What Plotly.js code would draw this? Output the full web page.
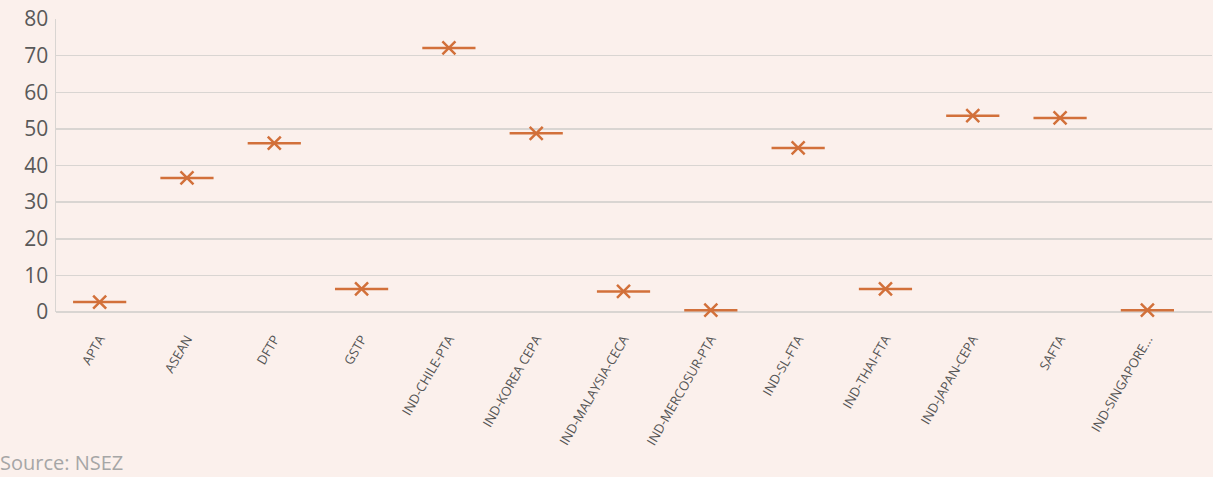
<!DOCTYPE html>
<html><head><meta charset="utf-8">
<script src="https://cdn.plot.ly/plotly-3.0.1.min.js"></script>
<style>html,body{margin:0;padding:0;background:#FBF0EC;}</style>
</head><body>
<div id="chart" style="width:1213px;height:477px;"></div>
<script>
const categories = ["APTA","ASEAN","DFTP","GSTP","IND-CHILE-PTA","IND-KOREA CEPA","IND-MALAYSIA-CECA","IND-MERCOSUR-PTA","IND-SL-FTA","IND-THAI-FTA","IND-JAPAN-CEPA","SAFTA","IND-SINGAPORE..."];
const values = [2.7, 36.6, 46.1, 6.3, 72.1, 48.8, 5.6, 0.5, 44.8, 6.3, 53.6, 53.0, 0.5];
const yTicks = [0,10,20,30,40,50,60,70,80];
const markerColor = "#D2703A";

const traces = [
  {x: categories, y: values, type: "scatter", mode: "markers", cliponaxis: false, hoverinfo: "x+y",
   marker: {symbol: "line-ew", size: 38, color: markerColor, line: {color: markerColor, width: 2.5}}},
  {x: categories, y: values, type: "scatter", mode: "markers", cliponaxis: false, hoverinfo: "skip",
   marker: {symbol: "x-thin", size: 13, color: markerColor, line: {color: markerColor, width: 2.5}}}
];

const layout = {
  width: 1213, height: 477,
  paper_bgcolor: "#FBF0EC", plot_bgcolor: "#FBF0EC",
  showlegend: false,
  margin: {l: 56, r: 1, t: 19, b: 165},
  font: {family: "Open Sans, sans-serif", color: "#595959"},
  xaxis: {
    type: "category", range: [-0.5, 12.74], tickangle: -60, showgrid: false, zeroline: false,
    showline: false, ticks: "", ticklabelstandoff: 16,
    tickfont: {size: 13, color: "#555555", family: "Open Sans, sans-serif"}
  },
  yaxis: {
    range: [0, 80], tickvals: yTicks, ticktext: yTicks.map(String),
    showgrid: true, gridcolor: "#D9D5D2", gridwidth: 1.5,
    zeroline: true, zerolinecolor: "#D9D5D2", zerolinewidth: 1.5,
    showline: true, linecolor: "#D9D5D2", linewidth: 1.5,
    ticks: "", tickfont: {size: 21, color: "#595959", family: "Open Sans, sans-serif"},
    ticklabelstandoff: 2
  },
  annotations: [{
    text: "Source: NSEZ", xref: "paper", yref: "paper", x: -0.05, y: -0.565,
    xanchor: "left", yanchor: "bottom", showarrow: false,
    font: {size: 20, color: "#A6A6A6", family: "Open Sans, sans-serif"}
  }]
};
Plotly.newPlot("chart", traces, layout, {displayModeBar: false, staticPlot: true});
</script>
</body></html>
